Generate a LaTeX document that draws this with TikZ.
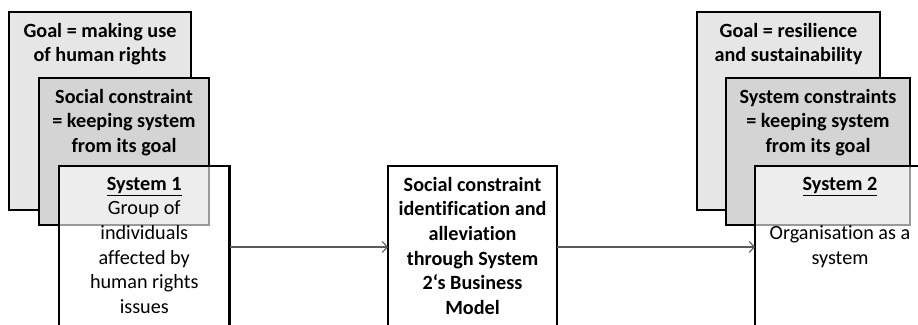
\documentclass[tikz,border=0pt]{standalone}
\usepackage{fontspec}
\setmainfont{Carlito}[Ligatures=NoCommon]
\usetikzlibrary{arrows.meta,calc}
\definecolor{goalgray}{HTML}{E6E6E6}
\definecolor{consgray}{HTML}{D4D4D4}
\definecolor{arrowgray}{HTML}{5A5A5A}
\begin{document}
\begin{tikzpicture}[x=1pt,y=-1pt,
  box/.style={draw=black, line width=2.4pt, rectangle, inner sep=0pt, outer sep=0pt, anchor=north west},
  goalbox/.style={box, fill=goalgray},
  consbox/.style={box, fill=consgray},
  sysbox/.style={box, fill=white, fill opacity=0.6, draw opacity=1},
  txt/.style={anchor=north, inner sep=0pt, align=center, font=\fontsize{20.2}{24.7}\selectfont},
  btxt/.style={txt, font=\fontsize{20.2}{24.7}\selectfont\bfseries},
  arr/.style={draw=arrowgray, line width=1.1pt, -{Straight Barb[length=5pt,width=11pt]}}]
\useasboundingbox (0,0) rectangle (918,324);
\clip (0,0) rectangle (918,324);
% left group
\node[goalbox, minimum width=182pt, minimum height=198pt] (g1) at (9,12) {};
\node[consbox, minimum width=170pt, minimum height=147pt] (c1) at (39,78) {};
\node[sysbox, minimum width=170.5pt, minimum height=180pt] (s1) at (59,166) {};
% middle
\node[box, fill=white, minimum width=169pt, minimum height=180pt] (mid) at (388,166) {};
% right group
\node[goalbox, minimum width=183pt, minimum height=198pt] (g2) at (697,12) {};
\node[consbox, minimum width=184pt, minimum height=147pt] (c2) at (726,78) {};
\node[sysbox, minimum width=170pt, minimum height=180pt] (s2) at (755,166) {};
% texts
\node[btxt] (g1t) at ($(g1.north)+(0,7.7)$) {\strut Goal = making use\\of human rights};
\node[btxt] (c1t) at ($(c1.north)+(0,7.7)$) {\strut Social constraint\\= keeping system\\from its goal};
\node[txt] (s1t) at ($(s1.north)+(0,6.7)$) {\strut\textbf{\underline{System 1}}\\Group of\\individuals\\affected by\\human rights\\issues};
\node[btxt] (midt) at ($(mid.north)+(0,7.7)$) {\strut Social constraint\\identification and\\alleviation\\through System\\2‘s Business\\Model};
\node[btxt] (g2t) at ($(g2.north)+(0,7.7)$) {\strut Goal = resilience\\and sustainability};
\node[btxt] (c2t) at ($(c2.north)+(0,7.7)$) {\strut System constraints\\= keeping system\\from its goal};
\node[txt] (s2t) at ($(s2.north)+(0,6.7)$) {\strut\textbf{\underline{System 2}}\\\strut\\Organisation as a\\system};
% connectors
\coordinate (ay) at (0,247);
\draw[arr] (s1.east |- ay) -- (mid.west |- ay);
\draw[arr] (mid.east |- ay) -- (s2.west |- ay);
\end{tikzpicture}
\end{document}
